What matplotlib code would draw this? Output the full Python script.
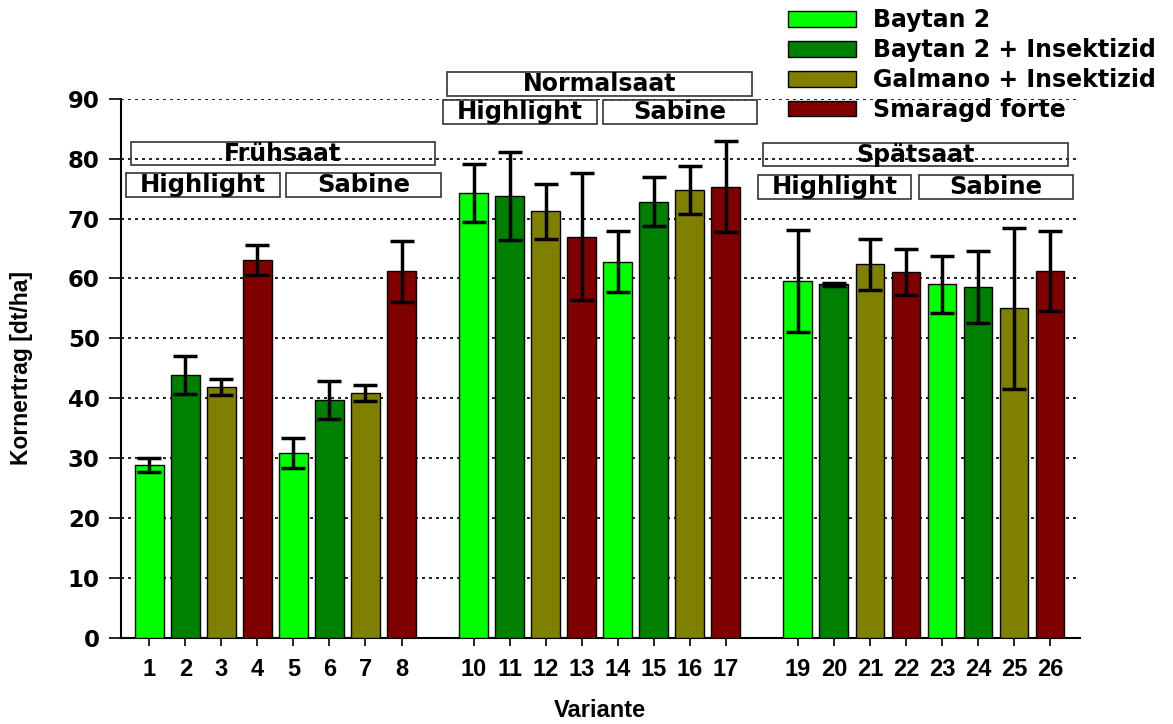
import matplotlib
matplotlib.use("Agg")
import matplotlib.pyplot as plt
from matplotlib.patches import Patch, Rectangle

# ---------------- data ----------------
variants = [1, 2, 3, 4, 5, 6, 7, 8,
            10, 11, 12, 13, 14, 15, 16, 17,
            19, 20, 21, 22, 23, 24, 25, 26]
yields = [28.9, 43.9, 41.9, 63.1, 30.9, 39.8, 40.9, 61.2,
          74.3, 73.8, 71.2, 67.0, 62.8, 72.8, 74.8, 75.3,
          59.6, 59.0, 62.4, 61.1, 59.0, 58.6, 55.0, 61.2]
errors = [1.15, 3.1, 1.4, 2.5, 2.55, 3.15, 1.4, 5.05,
          4.85, 7.35, 4.6, 10.65, 5.1, 4.1, 4.0, 7.55,
          8.55, 0.3, 4.25, 3.8, 4.75, 6.05, 13.5, 6.7]
treatments = ["Baytan 2", "Baytan 2 + Insektizid",
              "Galmano + Insektizid", "Smaragd forte"]
treatment_idx = [0, 1, 2, 3] * 6
sowing_labels = ["Frühsaat", "Normalsaat", "Spätsaat"]
variety_labels = ["Highlight", "Sabine"]
yticks = [0, 10, 20, 30, 40, 50, 60, 70, 80, 90]

# ---------------- styles / layout ----------------
colors = ["#00ff00", "#008000", "#808000", "#800000"]
narrow = "Liberation Sans"
wide = "DejaVu Sans"

# header boxes: (x0, x1, y0, y1) in data coordinates
sow_boxes = [(0.48, 8.93, 78.85, 82.7),
             (9.25, 17.72, 90.5, 94.4),
             (18.02, 26.49, 78.7, 82.6)]
var_boxes = [[(0.34, 4.62, 73.55, 77.55), (4.79, 9.09, 73.55, 77.55)],
             [(9.14, 13.42, 85.7, 89.7), (13.58, 17.86, 85.7, 89.7)],
             [(17.89, 22.14, 73.3, 77.2), (22.36, 26.64, 73.3, 77.2)]]

fig = plt.figure(figsize=(11.73, 7.24), dpi=100)
ax = fig.add_axes([0.1029, 0.1184, 0.9207 - 0.1029, 0.8638 - 0.1184])

bar_colors = [colors[i] for i in treatment_idx]
ax.bar(variants, yields, width=0.8, color=bar_colors, edgecolor="black",
       linewidth=1.0, zorder=3)
ax.errorbar(variants, yields, yerr=errors, fmt="none", ecolor="black",
            elinewidth=2.5, capsize=8.5, capthick=2.5, zorder=4)

ax.set_xlim(0.206, 26.83)
ax.set_ylim(0, 90)
ax.set_yticks(yticks)
ax.set_xticks(variants)
ax.set_xticklabels([str(v) for v in variants], fontfamily=narrow,
                   fontweight="bold", fontsize=17)
ax.set_yticklabels([str(v) for v in yticks], fontfamily=wide,
                   fontweight="bold", fontsize=16.5)
ax.tick_params(axis="x", direction="out", length=6, width=1.2, pad=8)
ax.tick_params(axis="y", direction="out", length=9, width=1.2, pad=6)
ax.yaxis.grid(True, linestyle=(0, (1.8, 2.4)), color="black", linewidth=1.2, zorder=0)
ax.set_axisbelow(True)
for s in ["top", "right"]:
    ax.spines[s].set_visible(False)
for s in ["left", "bottom"]:
    ax.spines[s].set_linewidth(1.5)

ax.set_ylabel("Kornertrag [dt/ha]", fontfamily=narrow, fontweight="bold",
              fontsize=16.5, labelpad=25)
ax.set_xlabel("Variante", fontfamily=narrow, fontweight="bold",
              fontsize=17, labelpad=13)

def draw_box(x0, x1, y0, y1, label, size):
    r = Rectangle((x0, y0), x1 - x0, y1 - y0, fill=False, edgecolor="#333333",
                  linewidth=1.2, clip_on=False, zorder=5)
    ax.add_patch(r)
    ax.text((x0 + x1) / 2, (y0 + y1) / 2, label, ha="center", va="center",
            fontfamily=wide, fontweight="bold", fontsize=size, clip_on=False,
            zorder=6)

for g in range(3):
    draw_box(*sow_boxes[g], sowing_labels[g], 17)
    for k in range(2):
        draw_box(*var_boxes[g][k], variety_labels[k], 17.5)

handles = [Patch(facecolor=c, edgecolor="black", linewidth=1.0) for c in colors]
leg = fig.legend(handles, treatments, loc="upper left",
                 bbox_to_anchor=(0.66, 1.008), frameon=False,
                 prop={"family": wide, "weight": "bold", "size": 17},
                 handlelength=2.85, handleheight=0.62, handletextpad=0.75,
                 labelspacing=0.25, borderaxespad=0.2)

fig.savefig("out.png", dpi=100)
